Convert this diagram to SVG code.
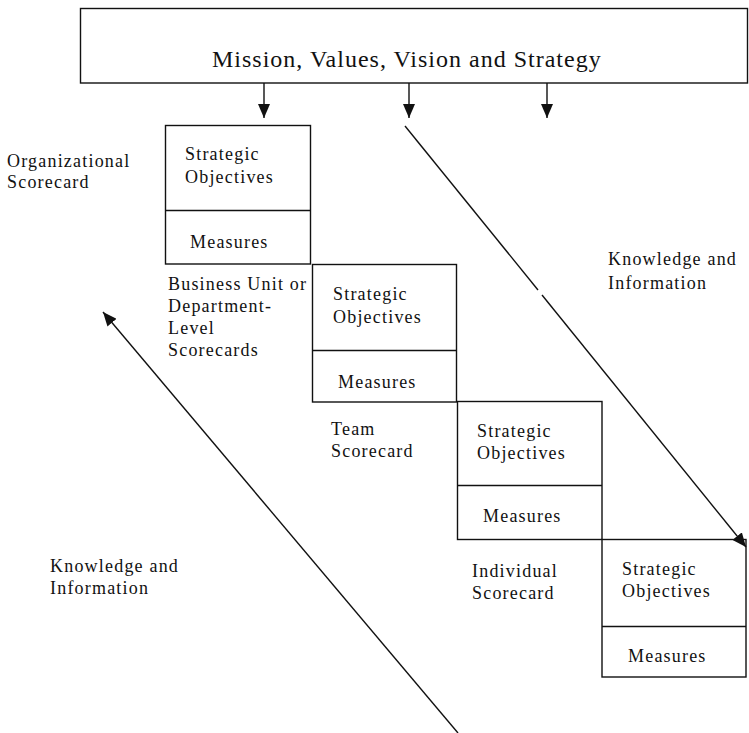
<svg xmlns="http://www.w3.org/2000/svg" width="749" height="733" viewBox="0 0 749 733">
  <style>
    .frame { fill: #ffffff; stroke: #111111; stroke-width: 1.4; }
    .rule { stroke: #111111; stroke-width: 1.4; }
    .flow { stroke: #111111; stroke-width: 1.4; fill: none; }
    .title { font-family: "Liberation Serif", "Times New Roman", serif; font-size: 24px; letter-spacing: 1px; fill: #111111; }
    .lbl { font-family: "Liberation Serif", "Times New Roman", serif; font-size: 18px; letter-spacing: 1.2px; fill: #111111; }
  </style>
  <defs>
    <marker id="head" viewBox="0 0 14 12" refX="14" refY="6" markerWidth="14" markerHeight="12" markerUnits="userSpaceOnUse" orient="auto">
      <path d="M0,0 L14,6 L0,12 Z" fill="#111111"/>
    </marker>
  </defs>
  <rect width="749" height="733" fill="#ffffff"/>

  <g id="mission">
    <rect class="frame" x="80.5" y="8.5" width="667" height="74.5"/>
    <text class="title" x="212" y="67">Mission, Values, Vision and Strategy</text>
  </g>

  <g id="organizational">
    <rect class="frame" x="165.5" y="125.5" width="145" height="138.5"/>
    <line class="rule" x1="165.5" y1="210.5" x2="310.5" y2="210.5"/>
    <text class="lbl" x="185" y="160">Strategic</text>
    <text class="lbl" x="185" y="183">Objectives</text>
    <text class="lbl" x="190" y="248">Measures</text>
  </g>
  <g id="organizational-label">
    <text class="lbl" x="7" y="167">Organizational</text>
    <text class="lbl" x="7" y="188">Scorecard</text>
  </g>

  <g id="business-unit">
    <rect class="frame" x="312.5" y="264.5" width="144" height="137.5"/>
    <line class="rule" x1="312.5" y1="350.5" x2="456.5" y2="350.5"/>
    <text class="lbl" x="333" y="300">Strategic</text>
    <text class="lbl" x="333" y="323">Objectives</text>
    <text class="lbl" x="338" y="388">Measures</text>
  </g>
  <g id="business-unit-label">
    <text class="lbl" x="168" y="290">Business Unit or</text>
    <text class="lbl" x="168" y="312">Department-</text>
    <text class="lbl" x="168" y="334">Level</text>
    <text class="lbl" x="168" y="356">Scorecards</text>
  </g>

  <g id="team">
    <rect class="frame" x="457.5" y="401.5" width="144.5" height="138"/>
    <line class="rule" x1="457.5" y1="485.5" x2="602" y2="485.5"/>
    <text class="lbl" x="477" y="437">Strategic</text>
    <text class="lbl" x="477" y="459">Objectives</text>
    <text class="lbl" x="483" y="522">Measures</text>
  </g>
  <g id="team-label">
    <text class="lbl" x="331" y="435">Team</text>
    <text class="lbl" x="331" y="457">Scorecard</text>
  </g>

  <g id="individual">
    <rect class="frame" x="602" y="539.5" width="144" height="137.5"/>
    <line class="rule" x1="602" y1="626.5" x2="746" y2="626.5"/>
    <text class="lbl" x="622" y="575">Strategic</text>
    <text class="lbl" x="622" y="597">Objectives</text>
    <text class="lbl" x="628" y="662">Measures</text>
  </g>
  <g id="individual-label">
    <text class="lbl" x="472" y="577">Individual</text>
    <text class="lbl" x="472" y="599">Scorecard</text>
  </g>

  <g id="knowledge-down-label">
    <text class="lbl" x="608" y="265">Knowledge and</text>
    <text class="lbl" x="608" y="289">Information</text>
  </g>
  <g id="knowledge-up-label">
    <text class="lbl" x="50" y="572">Knowledge and</text>
    <text class="lbl" x="50" y="594">Information</text>
  </g>

  <g id="connectors">
    <line class="flow" x1="264" y1="83" x2="264" y2="118" marker-end="url(#head)"/>
    <line class="flow" x1="409" y1="83" x2="409" y2="118" marker-end="url(#head)"/>
    <line class="flow" x1="547" y1="83" x2="547" y2="118" marker-end="url(#head)"/>
    <!-- cascade downward, with a small break along its run -->
    <line class="flow" x1="405" y1="126" x2="538" y2="290"/>
    <line class="flow" x1="542" y1="295" x2="746" y2="547" marker-end="url(#head)"/>
    <!-- feedback upward -->
    <line class="flow" x1="458" y1="733" x2="103" y2="312" marker-end="url(#head)"/>
  </g>
</svg>
